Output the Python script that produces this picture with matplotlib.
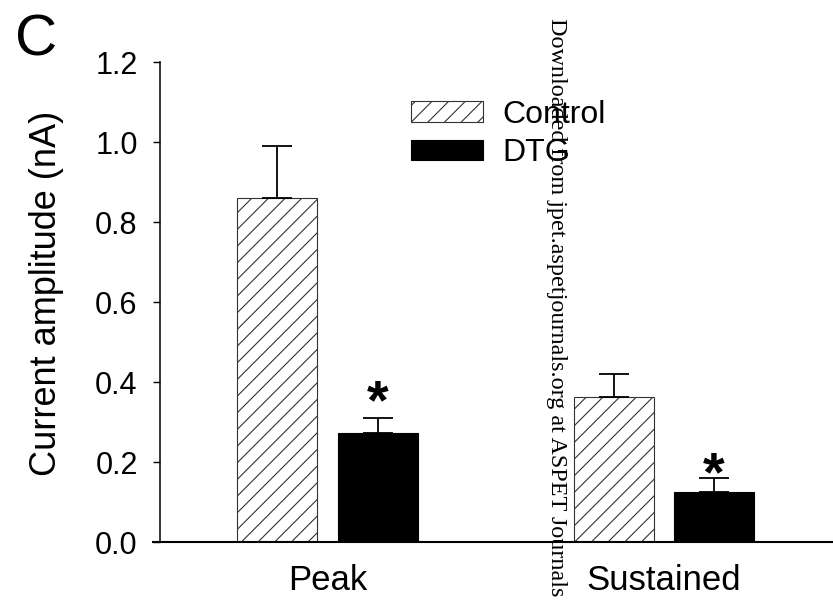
import numpy as np
import matplotlib.pyplot as plt

# === Data ===
groups = ["Peak", "Sustained"]
control_mean = [0.86, 0.3625]
control_err = [0.13, 0.058]
dtg_mean = [0.272, 0.125]
dtg_err = [0.038, 0.035]
significant = [True, True]  # DTG vs control

plt.rcParams["font.family"] = ["Liberation Sans", "DejaVu Sans"]
plt.rcParams["hatch.linewidth"] = 0.8

fig = plt.figure(figsize=(8.33, 6.03), dpi=100)
W, H = 833, 603
ax = fig.add_axes([153 / W, 61 / H, 679 / W, 480 / H])

x = np.arange(len(groups))
width = 0.238
off = 0.149
ekw = dict(elinewidth=1.3, capthick=1.3, ecolor="black")

ax.bar(x - off, control_mean, width, color="white", edgecolor="#333333",
       linewidth=0.8, hatch="//", label="Control",
       yerr=[np.zeros(len(x)), control_err], capsize=11, error_kw=ekw)
ax.bar(x + off, dtg_mean, width, color="black", edgecolor="black",
       linewidth=0.8, label="DTG",
       yerr=[np.zeros(len(x)), dtg_err], capsize=11, error_kw=ekw)

# asterisks above DTG bars
star_shift = [0.0, -0.03]
for i, s in enumerate(significant):
    if s:
        ax.text(x[i] + off, dtg_mean[i] + dtg_err[i] + star_shift[i], "*",
                ha="center", va="baseline", fontsize=40, fontweight="bold")

ax.set_xlim(-0.519, 1.501)
ax.set_ylim(0, 1.2)
ticks = np.arange(0, 1.21, 0.2)
ax.set_yticks(ticks)
ax.set_yticklabels([f"{v:.1f}" for v in ticks])
ax.set_xticks(x)
ax.set_xticklabels(groups)

ax.spines["top"].set_visible(False)
ax.spines["right"].set_visible(False)
ax.spines["left"].set_position(("data", -0.4985))
ax.spines["left"].set_linewidth(1.1)
ax.spines["bottom"].set_linewidth(1.5)
ax.tick_params(axis="y", direction="out", length=5, width=1, pad=11, labelsize=22)
ax.tick_params(axis="x", length=0, pad=16, labelsize=25)

fig.text(47 / W, 1 - 293 / H, "Current amplitude (nA)", fontsize=26,
         rotation=90, ha="center", va="center")

leg = ax.legend(loc="upper left", bbox_to_anchor=(411 / W, 1 - 100 / H),
                bbox_transform=fig.transFigure, frameon=False, fontsize=23,
                handlelength=2.25, handleheight=0.62, handletextpad=0.6,
                labelspacing=0.26, borderpad=0, borderaxespad=0)

# panel letter and watermark
fig.text(15 / W, 1 - 14 / H, "C", fontsize=42, ha="left", va="top")
fig.text(557 / W, 1 - 18 / H, "Downloaded from jpet.aspetjournals.org at ASPET Journals",
         rotation=-90, ha="center", va="top", fontsize=17.4,
         family=["Liberation Serif", "DejaVu Serif"])

fig.savefig("out.png", dpi=100)
